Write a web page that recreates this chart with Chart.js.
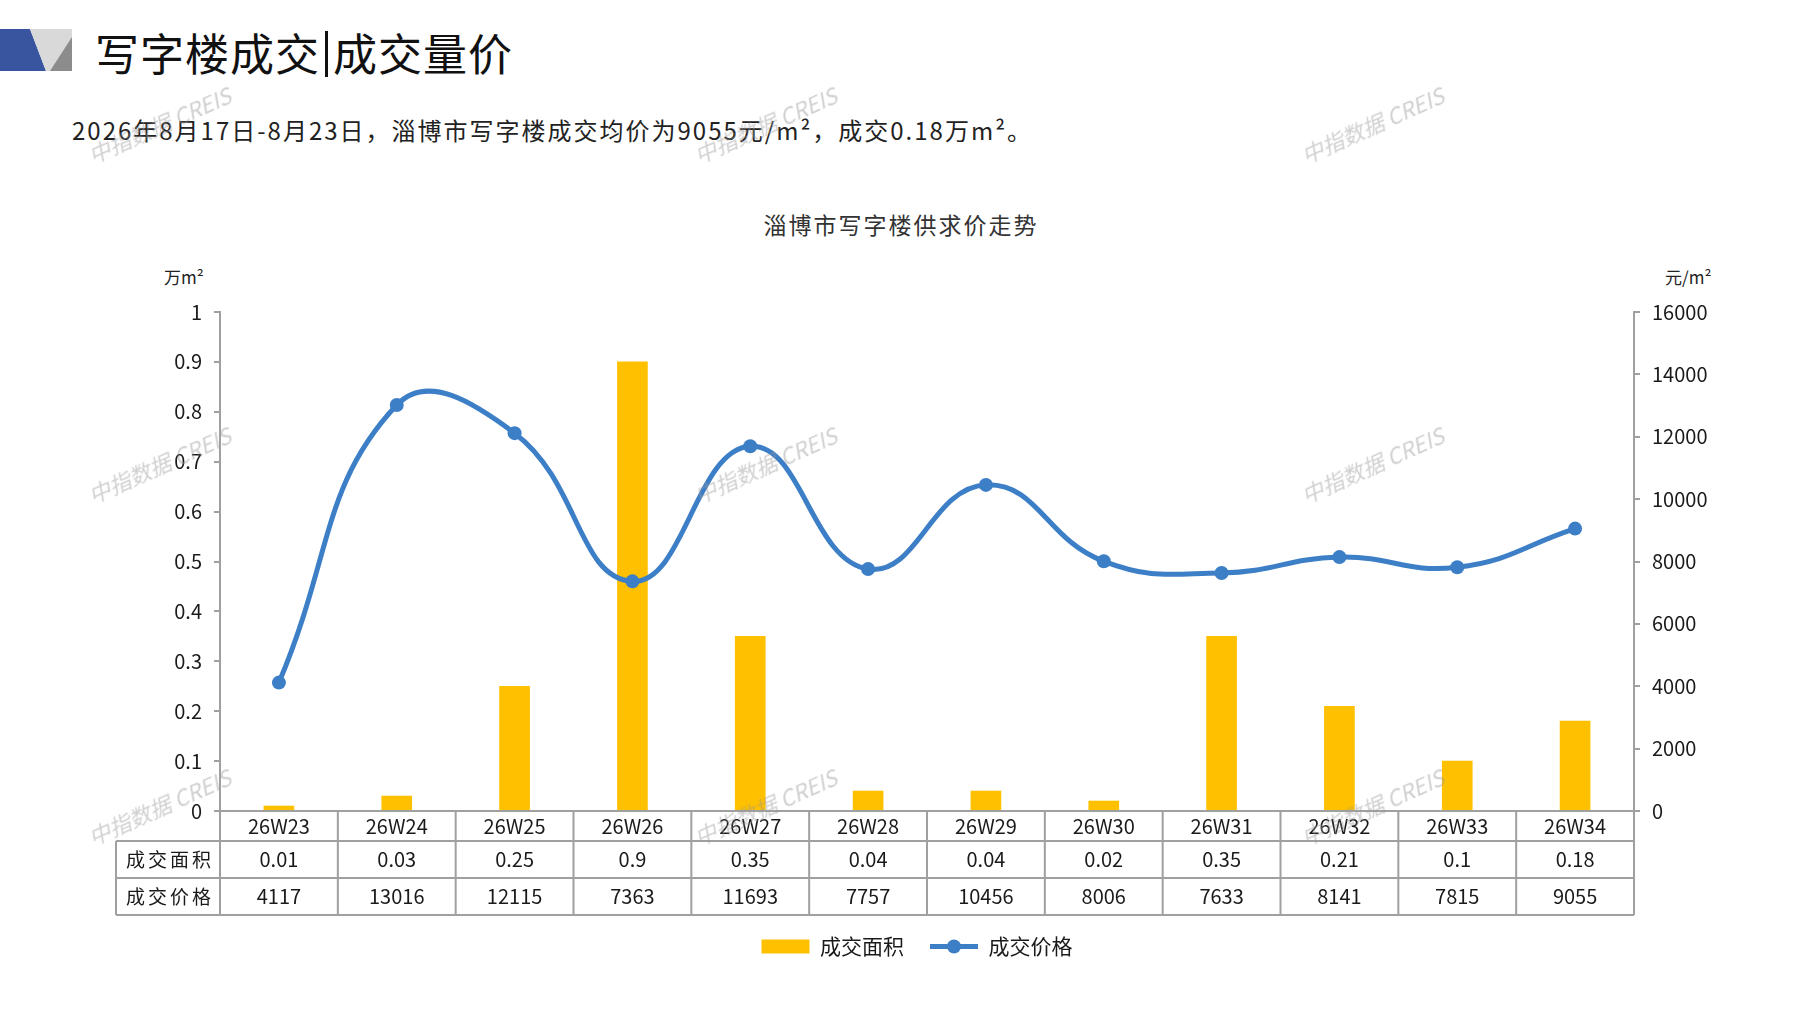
<!DOCTYPE html>
<html>
<head>
<meta charset="utf-8">
<script src="https://cdn.jsdelivr.net/npm/chart.js@4.4.0/dist/chart.umd.min.js"></script>
<style>
  html, body { margin: 0; padding: 0; background: #fff; }
  body { width: 1797px; height: 1010px; position: relative; overflow: hidden;
         font-family: "Noto Sans CJK SC", sans-serif; color: #1a1a1a; }
  #wrap { position: absolute; left: 0; top: 0; width: 1797px; height: 1010px; }
  .txt { position: absolute; white-space: nowrap; }
  #header { left: 95px; top: 20px; font-size: 44px; color: #111; letter-spacing: 1px; }
  #header .sep { display: inline-block; width: 3px; height: 46px; background: #111; vertical-align: -6px; margin: 0 5px; }
  #sub { left: 72px; top: 112px; font-size: 24px; color: #222; letter-spacing: 2px; }
  #ctitle { left: 0; width: 1802px; text-align: center; top: 207px; font-size: 23px; color: #333; letter-spacing: 2px; }
  #unitL { left: 164px; top: 264px; font-size: 17px; color: #222; }
  #unitR { left: 1665px; top: 264px; font-size: 17px; color: #222; }
  .wm { position: absolute; font-size: 22px; color: rgba(150,150,150,0.45); transform: translate(-50%,-50%) rotate(-24deg);
        white-space: nowrap; pointer-events: none; font-family: "Noto Sans CJK SC", sans-serif; font-style: italic; }
</style>
</head>
<body>
<svg style="position:absolute;left:0;top:29px" width="74" height="42">
  <polygon points="0,0 30,0 46,42 0,42" fill="#3a55a0"/>
  <polygon points="30,0 72,0 72,42 46,42" fill="#d9d9d9"/>
  <polygon points="72,8 72,42 50,42" fill="#8c8c8c"/>
</svg>
<div class="txt" id="header">写字楼成交<span class="sep"></span>成交量价</div>
<div class="txt" id="sub">2026年8月17日-8月23日，淄博市写字楼成交均价为9055元/m²，成交0.18万m²。</div>
<div class="txt" id="ctitle">淄博市写字楼供求价走势</div>
<div class="txt" id="unitL">万m²</div>
<div class="txt" id="unitR">元/m²</div>
<div id="wrap"><canvas id="grafico" width="1797" height="1010"></canvas></div>
<div class="wm" style="left:159px;top:124px">中指数据 CREIS</div>
<div class="wm" style="left:765px;top:124px">中指数据 CREIS</div>
<div class="wm" style="left:1372px;top:124px">中指数据 CREIS</div>
<div class="wm" style="left:159px;top:464px">中指数据 CREIS</div>
<div class="wm" style="left:765px;top:464px">中指数据 CREIS</div>
<div class="wm" style="left:1372px;top:464px">中指数据 CREIS</div>
<div class="wm" style="left:159px;top:806px">中指数据 CREIS</div>
<div class="wm" style="left:765px;top:806px">中指数据 CREIS</div>
<div class="wm" style="left:1372px;top:806px">中指数据 CREIS</div>

<script>
// Datos del gráfico
const semanas = ["26W23", "26W24", "26W25", "26W26", "26W27", "26W28", "26W29", "26W30", "26W31", "26W32", "26W33", "26W34"];
const areaVendida = [0.01, 0.03, 0.25, 0.9, 0.35, 0.04, 0.04, 0.02, 0.35, 0.21, 0.1, 0.18];
const precioVenta = [4117, 13016, 12115, 7363, 11693, 7757, 10456, 8006, 7633, 8141, 7815, 9055];
const filasTabla = ["成交面积", "成交价格"];
const ejeIzq = { min: 0, max: 1, paso: 0.1 };
const ejeDer = { min: 0, max: 16000, paso: 2000 };

const fuenteNum = "'Noto Sans CJK SC', sans-serif";
const colorLinea = "#3d7fc6";
const colorBarra = "#ffc000";
const colorGris = "#a0a0a0";

// Plugin que dibuja la tabla de datos bajo el eje X
const tablaPlugin = {
    id: "tablaDatos",
    afterDraw(chart) {
        const ctx = chart.ctx;
        const area = chart.chartArea;
        const x = chart.scales.x;
        const paso = x.getPixelForValue(1) - x.getPixelForValue(0);
        const izquierda = 116;
        const y0 = area.bottom, y1 = y0 + 30, y2 = y1 + 37, y3 = y2 + 37;

        ctx.save();
        ctx.strokeStyle = colorGris;
        ctx.lineWidth = 2;
        ctx.beginPath();
        ctx.moveTo(area.left, y0); ctx.lineTo(area.right, y0);
        [y1, y2, y3].forEach(y => { ctx.moveTo(izquierda, y); ctx.lineTo(area.right, y); });
        ctx.moveTo(izquierda, y1); ctx.lineTo(izquierda, y3);
        for (let i = 0; i <= semanas.length; i++) {
            const px = x.getPixelForValue(i) - paso / 2;
            ctx.moveTo(px, y0); ctx.lineTo(px, y3);
        }
        ctx.stroke();

        ctx.fillStyle = "#1a1a1a";
        ctx.textAlign = "center";
        ctx.textBaseline = "middle";
        ctx.font = "20px " + fuenteNum;
        semanas.forEach((s, i) => {
            const px = x.getPixelForValue(i);
            ctx.fillText(s, px, (y0 + y1) / 2);
            ctx.fillText(String(areaVendida[i]), px, (y1 + y2) / 2);
            ctx.fillText(String(precioVenta[i]), px, (y2 + y3) / 2);
        });
        ctx.font = "19px 'Noto Sans CJK SC', sans-serif";
        ctx.letterSpacing = "3px";
        ctx.fillText(filasTabla[0], (izquierda + area.left) / 2 + 2, (y1 + y2) / 2);
        ctx.fillText(filasTabla[1], (izquierda + area.left) / 2 + 2, (y2 + y3) / 2);
        ctx.letterSpacing = "0px";

        // punto en la leyenda de la línea
        const leyenda = chart.legend;
        if (leyenda && leyenda.legendHitBoxes) {
            const items = leyenda.legendItems;
            items.forEach((it, k) => {
                if (it.datasetIndex === 1) {
                    const hb = leyenda.legendHitBoxes[k];
                    ctx.beginPath();
                    ctx.fillStyle = colorLinea;
                    ctx.arc(hb.left + 24, hb.top + hb.height / 2, 7, 0, Math.PI * 2);
                    ctx.fill();
                }
            });
        }
        ctx.restore();
    }
};

const ctx = document.getElementById("grafico").getContext("2d");
const grafico = new Chart(ctx, {
    data: {
        labels: semanas,
        datasets: [{
            type: "bar",
            label: "成交面积",
            data: areaVendida,
            backgroundColor: colorBarra,
            borderWidth: 0,
            barThickness: 30,
            yAxisID: "y",
            order: 1
        }, {
            type: "line",
            label: "成交价格",
            data: precioVenta,
            borderColor: colorLinea,
            backgroundColor: colorLinea,
            borderWidth: 5,
            pointRadius: 7,
            pointBackgroundColor: colorLinea,
            pointBorderWidth: 0,
            tension: 0.45,
            yAxisID: "y1",
            order: 0
        }]
    },
    options: {
        responsive: false,
        animation: false,
        layout: { padding: { top: 312, left: 100, right: 63, bottom: 43 } },
        plugins: {
            title: { display: false },
            tooltip: { enabled: false },
            legend: {
                position: "bottom",
                labels: {
                    usePointStyle: true,
                    pointStyleWidth: 48,
                    boxHeight: 14,
                    padding: 26,
                    color: "#1a1a1a",
                    font: { size: 21, family: "'Noto Sans CJK SC', sans-serif" },
                    sort: (a, b) => a.datasetIndex - b.datasetIndex,
                    generateLabels(chart) {
                        const base = Chart.defaults.plugins.legend.labels.generateLabels(chart);
                        return base.map(l => {
                            l.pointStyle = l.datasetIndex === 0 ? "rect" : "line";
                            l.lineWidth = l.datasetIndex === 0 ? 0 : 5;
                            return l;
                        });
                    }
                }
            }
        },
        scales: {
            x: {
                grid: { display: false },
                border: { display: false },
                ticks: { display: false },
                afterFit(scale) { scale.height = 99; }
            },
            y: {
                position: "left",
                min: ejeIzq.min,
                max: ejeIzq.max,
                ticks: {
                    stepSize: ejeIzq.paso, padding: 12, color: "#1a1a1a",
                    font: { size: 20, family: fuenteNum },
                    callback: v => String(Math.round(v * 10) / 10)
                },
                grid: { drawOnChartArea: false, drawTicks: true, tickLength: 6, color: colorGris, lineWidth: 2 },
                border: { display: true, color: colorGris, width: 2 },
                afterFit(scale) { scale.width = 120; }
            },
            y1: {
                position: "right",
                min: ejeDer.min,
                max: ejeDer.max,
                ticks: {
                    stepSize: ejeDer.paso, padding: 12, color: "#1a1a1a",
                    font: { size: 20, family: fuenteNum },
                    callback: v => String(v)
                },
                grid: { drawOnChartArea: false, drawTicks: true, tickLength: 6, color: colorGris, lineWidth: 2 },
                border: { display: true, color: colorGris, width: 2 },
                afterFit(scale) { scale.width = 100; }
            }
        }
    },
    plugins: [tablaPlugin]
});
</script>
</body>
</html>
